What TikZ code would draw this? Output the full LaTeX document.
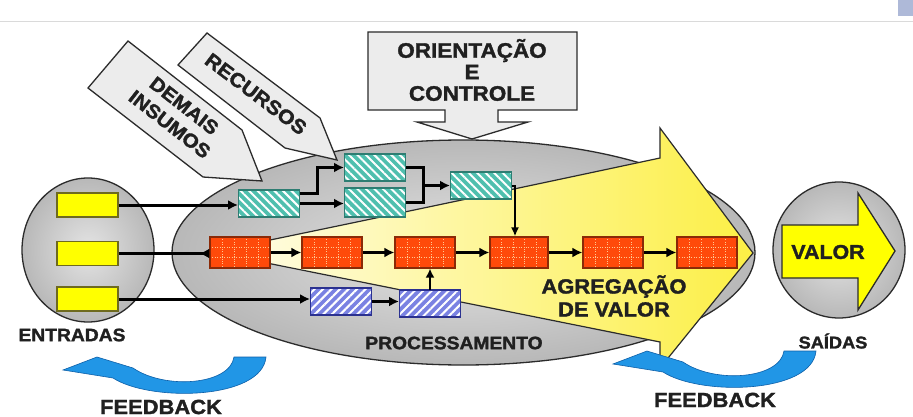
\documentclass[tikz,border=0pt]{standalone}
\usepackage{fontspec}
\newfontfamily\lblfont{Liberation Sans Bold}[FakeStretch=1.07,FakeBold=1.6]
\usetikzlibrary{arrows.meta,patterns.meta,calc}
\definecolor{yfill}{HTML}{FFFF00}
\definecolor{yborder}{HTML}{6E6A1E}
\definecolor{tealfill}{HTML}{4FBFAE}
\definecolor{tealborder}{HTML}{2E7D72}
\definecolor{bluefill}{HTML}{7A82E2}
\definecolor{blueborder}{HTML}{2B3190}
\definecolor{redfill}{HTML}{FF4A0A}
\definecolor{redborder}{HTML}{8A2A08}
\definecolor{reddot}{HTML}{FFC890}
\definecolor{callfill}{HTML}{ECECEC}
\definecolor{outl}{HTML}{2B2B2B}
\definecolor{txt}{HTML}{202020}
\definecolor{ellin}{HTML}{E4E4E4}
\definecolor{ellout}{HTML}{B8B8B8}
\definecolor{wedgeL}{HTML}{FFFDEC}
\definecolor{wedgeM}{HTML}{FFFAD2}
\definecolor{wedgeR}{HTML}{FCEF45}
\definecolor{fbfill}{HTML}{2196E6}
\definecolor{fbline}{HTML}{0D5FA8}
\definecolor{topl}{HTML}{DADADA}
\definecolor{cornerc}{HTML}{AEB9D8}
\begin{document}
\begin{tikzpicture}[x=1pt,y=-1pt,
  lbl/.style={font=\lblfont\fontsize{18}{20}\selectfont, text=txt, inner sep=0pt, align=center},
  callout/.style={fill=callfill, draw=outl, line width=1.3pt, line join=miter},
  ell/.style={draw=outl, line width=1.3pt, inner color=ellin, outer color=ellout},
  ybox/.style={draw=yborder, fill=yfill, line width=1.3pt, minimum width=61pt, minimum height=24pt, inner sep=0pt},
  tbox/.style={draw=tealborder, fill=tealfill, line width=1pt, minimum width=61pt, minimum height=27pt, inner sep=0pt,
     postaction={pattern={Lines[angle=-45,distance=6pt,line width=2pt]}, pattern color=white},
     postaction={draw=tealborder, line width=1.2pt}},
  bbox/.style={draw=blueborder, fill=bluefill, line width=1pt, minimum width=61pt, minimum height=27pt, inner sep=0pt,
     postaction={pattern={Lines[angle=45,distance=6pt,line width=2pt]}, pattern color=white},
     postaction={draw=blueborder, line width=1.2pt}},
  griddot/.style={draw=reddot, line width=0.8pt, dash pattern=on 0.8pt off 1.6pt},
  rbox/.style={draw=redborder, fill=redfill, line width=1.2pt, minimum width=60pt, minimum height=31pt, inner sep=0pt,
     path picture={
       \foreach \f in {0.2,0.4,0.6,0.8}{\draw[griddot] ($(path picture bounding box.north west)!\f!(path picture bounding box.north east)$) -- ($(path picture bounding box.south west)!\f!(path picture bounding box.south east)$);}
       \foreach \f in {0.33,0.67}{\draw[griddot] ($(path picture bounding box.north west)!\f!(path picture bounding box.south west)$) -- ($(path picture bounding box.north east)!\f!(path picture bounding box.south east)$);}
     }},
  conn/.style={draw=black, line width=3pt, -{Latex[length=10pt,width=10pt]}},
  lnk/.style={draw=black, line width=3pt, line join=miter},
  thinconn/.style={draw=black, line width=2pt, -{Latex[length=9pt,width=8pt]}},
  fbk/.pic={\filldraw[fill=fbfill, draw=fbline, line width=0.6pt]
     (266,357) -- (234,357) .. controls (230,385) and (165,390) .. (133,368)
     -- (97,357) -- (63,370) -- (113,378)
     .. controls (150,402) and (262,400) .. (266,357) -- cycle;}
]
\useasboundingbox (0,0) rectangle (913,417);
\fill[white] (0,0) rectangle (913,417);
% top rule and corner mark
\draw[topl, line width=1pt] (0,22) -- (913,22);
\fill[cornerc] (898,0) rectangle (913,16);

% ellipses
\path[ell] (88,250) ellipse [x radius=66, y radius=72];
\path[ell] (839,250) ellipse [x radius=66, y radius=68];
\path[ell] (463.5,252.5) ellipse [x radius=291.5, y radius=112.5];

% diagonal input arrows
\path[callout] (128,41) -- (242,130) -- (262,181) -- (203,177) -- (88,88) -- cycle;
\path[callout] (207,33) -- (320,118) -- (337,160) -- (285,148) -- (178,65) -- cycle;

% value-adding wedge arrow
\path[draw=outl, line width=1.2pt, left color=wedgeL, middle color=wedgeM, right color=wedgeR, line join=miter]
  (212,252) .. controls (364,220.7) and (513.3,189.3) .. (660,158)
  -- (660,128) -- (753,253) -- (660,368) -- (660,342) -- cycle;

% orientation arrow
\path[callout] (368,32) -- (577,32) -- (577,110) -- (498,110) -- (498,122) -- (528,122)
  -- (472,139) -- (417,122) -- (445,122) -- (445,110) -- (368,110) -- cycle;

% output arrow
\path[draw=outl, fill=yfill, line width=1.3pt, line join=miter]
  (782,225) -- (858,225) -- (858,193) -- (895,251) -- (858,310) -- (858,278) -- (782,278) -- cycle;

% boxes
\node[ybox] (Y1) at (87.5,205) {};
\node[ybox] (Y2) at (87.5,253.5) {};
\node[ybox] (Y3) at (87.5,299) {};
\node[tbox] (T1) at (269,203.5) {};
\node[tbox] (T2) at (375,167.5) {};
\node[tbox, minimum height=29pt] (T3) at (375,202.5) {};
\node[tbox] (T4) at (481,185.5) {};
\node[rbox] (R1) at (240,252.5) {};
\node[rbox] (R2) at (332,252.5) {};
\node[rbox] (R3) at (425,252.5) {};
\node[rbox, minimum width=58pt] (R4) at (519,252.5) {};
\node[rbox] (R5) at (613,252.5) {};
\node[rbox] (R6) at (707,252.5) {};
\node[bbox] (B1) at (341,301.5) {};
\node[bbox] (B2) at (430,303.5) {};

% connectors
\draw[conn] (Y1.east) -- (Y1.east -| T1.west);
\draw[draw=black, line width=3pt, -{Latex[reversed,length=10pt,width=10pt]}] (Y2.east) -- (Y2.east -| R1.west);
\draw[conn] (Y3.east) -- (Y3.east -| B1.west);
\draw[conn] (T1.east) -- (T1.east -| T3.west);
\draw[lnk, -{Latex[length=10pt,width=10pt]}] ([yshift=10pt]T1.east) -- ++(17,0) |- (T2.west);
\coordinate (mj) at (423,185.5);
\draw[lnk] (T2.east) -| (mj) |- (T3.east);
\draw[conn] (mj) -- (T4.west);
\draw[thinconn] (T4.east) -| ([xshift=-4pt]R4.north);
\draw[conn] (R1) -- (R2);
\draw[conn] (R2) -- (R3);
\draw[conn] (R3) -- (R4);
\draw[conn] (R4) -- (R5);
\draw[conn] (R5) -- (R6);
\draw[conn] (B1.east) -- (B1.east -| B2.west);
\draw[line width=2.4pt, -{Latex[length=9pt,width=9pt]}] (B2.north) -- (B2.north |- R3.south);

% labels
\node[lbl, font=\lblfont\fontsize{21}{21.5}\selectfont] (tOri) at (472,70) {ORIENTAÇÃO\\E\\CONTROLE};
\node[lbl, rotate=-37, font=\lblfont\fontsize{20}{22}\selectfont] (tRec) at (256,94) {RECURSOS};
\node[lbl, rotate=-38, font=\lblfont\fontsize{19.5}{23.5}\selectfont] (tDem) at (177,115) {DEMAIS\\INSUMOS};
\node[lbl] (tEnt) at (72,335) {ENTRADAS};
\node[lbl] (tPro) at (454,343) {PROCESSAMENTO};
\node[lbl, font=\lblfont\fontsize{20.5}{23}\selectfont] (tAgr) at (614,296) {AGREGAÇÃO\\DE VALOR};
\node[lbl, font=\lblfont\fontsize{20}{22}\selectfont] (tVal) at (828,252) {VALOR};
\node[lbl, font=\lblfont\fontsize{17}{20}\selectfont] (tSai) at (833,341) {SAÍDAS};

% feedback arrows
\pic (fbl) at (0,0) {fbk};
\pic (fbr) at (550,-6) {fbk};
\node[lbl, font=\lblfont\fontsize{20.5}{22}\selectfont] (tFb1) at (161,407) {FEEDBACK};
\node[lbl, font=\lblfont\fontsize{20.5}{22}\selectfont] (tFb2) at (715,400) {FEEDBACK};
\end{tikzpicture}
\end{document}
